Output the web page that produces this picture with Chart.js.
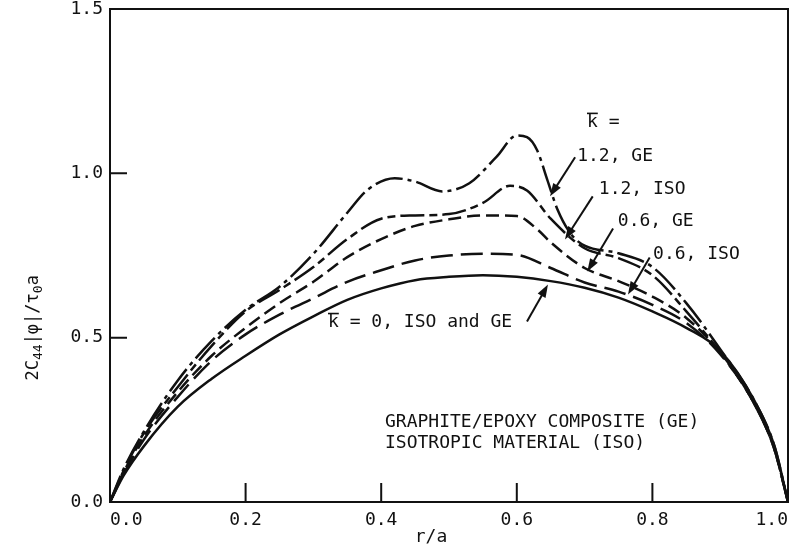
<!DOCTYPE html>
<html>
<head>
<meta charset="utf-8">
<script src="https://cdn.jsdelivr.net/npm/chart.js@4.4.1/dist/chart.umd.min.js"></script>
<style>
  html, body { margin: 0; padding: 0; background: #fff; }
  #wrap { width: 798px; height: 547px; }
</style>
</head>
<body>
<div id="wrap"><canvas id="chart1" width="798" height="547"></canvas></div>
<script>
// r/a sample positions and curve values
const rGe12 = [0, 0.02, 0.05, 0.1, 0.15, 0.2, 0.25, 0.3, 0.35, 0.38, 0.42, 0.45, 0.49, 0.53, 0.57, 0.6, 0.615, 0.63, 0.645, 0.66, 0.68, 0.7, 0.75, 0.8, 0.85, 0.9, 0.95, 0.98, 1.0]
const vGe12 = [0, 0.1, 0.215, 0.37, 0.49, 0.585, 0.655, 0.755, 0.88, 0.95, 0.985, 0.975, 0.945, 0.97, 1.05, 1.115, 1.11, 1.07, 0.98, 0.89, 0.815, 0.78, 0.757, 0.715, 0.605, 0.465, 0.31, 0.17, 0]

const rIso12 = [0, 0.02, 0.05, 0.1, 0.15, 0.2, 0.25, 0.3, 0.35, 0.4, 0.45, 0.5, 0.55, 0.59, 0.615, 0.65, 0.7, 0.75, 0.8, 0.85, 0.9, 0.95, 0.98, 1.0]
const vIso12 = [0, 0.095, 0.21, 0.35, 0.475, 0.58, 0.645, 0.715, 0.8, 0.862, 0.872, 0.876, 0.91, 0.962, 0.948, 0.862, 0.772, 0.742, 0.69, 0.58, 0.455, 0.3, 0.16, 0]

const rGe06 = [0, 0.02, 0.05, 0.1, 0.15, 0.2, 0.25, 0.3, 0.35, 0.4, 0.45, 0.5, 0.55, 0.6, 0.63, 0.65, 0.7, 0.75, 0.8, 0.85, 0.9, 0.95, 0.98, 1.0]
const vGe06 = [0, 0.09, 0.2, 0.335, 0.445, 0.53, 0.605, 0.67, 0.745, 0.8, 0.84, 0.86, 0.872, 0.87, 0.83, 0.79, 0.712, 0.672, 0.625, 0.56, 0.455, 0.3, 0.16, 0]

const rIso06 = [0, 0.02, 0.05, 0.1, 0.15, 0.2, 0.25, 0.3, 0.35, 0.4, 0.45, 0.5, 0.55, 0.6, 0.65, 0.7, 0.75, 0.8, 0.85, 0.9, 0.95, 0.98, 1.0]
const vIso06 = [0, 0.085, 0.19, 0.32, 0.43, 0.51, 0.57, 0.62, 0.67, 0.705, 0.735, 0.75, 0.755, 0.752, 0.712, 0.668, 0.64, 0.6, 0.545, 0.45, 0.3, 0.16, 0]

const rK0 = [0, 0.02, 0.05, 0.1, 0.15, 0.2, 0.25, 0.3, 0.35, 0.4, 0.45, 0.5, 0.55, 0.6, 0.65, 0.7, 0.75, 0.8, 0.85, 0.9, 0.95, 0.98, 1.0]
const vK0 = [0, 0.08, 0.17, 0.29, 0.375, 0.445, 0.51, 0.565, 0.615, 0.65, 0.675, 0.685, 0.69, 0.685, 0.672, 0.652, 0.622, 0.58, 0.53, 0.46, 0.31, 0.17, 0]

const xTickMarks = [0.2, 0.4, 0.6, 0.8]
const yTickMarks = [0.5, 1.0]

// labels and arrows, positions in data units (r/a, value)
const curveLabels = [
    { text: 'k =', r: 0.7035, v: 1.155, bar: true },
    { text: '1.2, GE', r: 0.689, v: 1.052 },
    { text: '1.2, ISO', r: 0.721, v: 0.951 },
    { text: '0.6, GE', r: 0.749, v: 0.854 },
    { text: '0.6, ISO', r: 0.801, v: 0.753 },
    { text: 'k = 0, ISO and GE', r: 0.3215, v: 0.546, bar: true },
    { text: 'GRAPHITE/EPOXY COMPOSITE (GE)', r: 0.4056, v: 0.241 },
    { text: 'ISOTROPIC MATERIAL (ISO)', r: 0.4056, v: 0.18 }
]
const arrows = [
    { from: [0.686, 1.049], to: [0.649, 0.93] },
    { from: [0.712, 0.93], to: [0.671, 0.799] },
    { from: [0.742, 0.832], to: [0.704, 0.701] },
    { from: [0.796, 0.744], to: [0.764, 0.631] },
    { from: [0.615, 0.549], to: [0.646, 0.662] }
]

const mono = '"DejaVu Sans Mono", "Liberation Mono", monospace'

function points(rs, vs) {
    return rs.map((r, i) => ({ x: r, y: vs[i] }))
}

function curve(label, rs, vs, dash) {
    return {
        label: label,
        data: points(rs, vs),
        borderColor: '#111',
        borderWidth: 2.5,
        borderDash: dash,
        pointRadius: 0,
        fill: false,
        cubicInterpolationMode: 'monotone'
    }
}

const decor = {
    id: 'decor',
    afterDraw(chart) {
        const { ctx, chartArea: a, scales: { x, y } } = chart
        ctx.save()
        ctx.strokeStyle = '#111'
        ctx.fillStyle = '#111'
        ctx.lineWidth = 2
        ctx.setLineDash([])
        ctx.strokeRect(a.left, a.top, a.right - a.left, a.bottom - a.top)

        ctx.beginPath()
        xTickMarks.forEach(v => {
            const px = x.getPixelForValue(v)
            ctx.moveTo(px, a.bottom)
            ctx.lineTo(px, a.bottom - 19)
        })
        yTickMarks.forEach(v => {
            const py = y.getPixelForValue(v)
            ctx.moveTo(a.left, py)
            ctx.lineTo(a.left + 17, py)
        })
        ctx.stroke()

        // text labels
        ctx.font = '18px ' + mono
        ctx.textBaseline = 'middle'
        ctx.textAlign = 'left'
        curveLabels.forEach(l => {
            const px = x.getPixelForValue(l.r)
            const py = y.getPixelForValue(l.v)
            ctx.fillText(l.text, px, py)
            if (l.bar) {
                const w = ctx.measureText('k').width
                ctx.lineWidth = 1.6
                ctx.beginPath()
                ctx.moveTo(px, py - 9)
                ctx.lineTo(px + w, py - 9)
                ctx.stroke()
            }
        })

        // arrows
        arrows.forEach(ar => {
            const x0 = x.getPixelForValue(ar.from[0]), y0 = y.getPixelForValue(ar.from[1])
            const x1 = x.getPixelForValue(ar.to[0]), y1 = y.getPixelForValue(ar.to[1])
            const ang = Math.atan2(y1 - y0, x1 - x0)
            ctx.lineWidth = 2
            ctx.beginPath()
            ctx.moveTo(x0, y0)
            ctx.lineTo(x1 - 8 * Math.cos(ang), y1 - 8 * Math.sin(ang))
            ctx.stroke()
            ctx.beginPath()
            ctx.moveTo(x1, y1)
            ctx.lineTo(x1 - 13 * Math.cos(ang) + 4.5 * Math.sin(ang), y1 - 13 * Math.sin(ang) - 4.5 * Math.cos(ang))
            ctx.lineTo(x1 - 13 * Math.cos(ang) - 4.5 * Math.sin(ang), y1 - 13 * Math.sin(ang) + 4.5 * Math.cos(ang))
            ctx.closePath()
            ctx.fill()
        })

        // x axis title
        ctx.textAlign = 'center'
        ctx.font = '18px ' + mono
        ctx.fillText('r/a', x.getPixelForValue(0.4735), a.bottom + 35)

        // y axis title with subscripts
        const parts = [
            ['2C', 17, 0], ['44', 13, 5], ['|\u03c6|/\u03c4', 17, 0], ['0', 13, 5], ['a', 17, 0]
        ]
        let total = 0
        parts.forEach(p => { ctx.font = p[1] + 'px ' + mono; total += ctx.measureText(p[0]).width })
        ctx.translate(34, y.getPixelForValue(0.53))
        ctx.rotate(-Math.PI / 2)
        ctx.textAlign = 'left'
        let cx = -total / 2
        parts.forEach(p => {
            ctx.font = p[1] + 'px ' + mono
            ctx.fillText(p[0], cx, p[2])
            cx += ctx.measureText(p[0]).width
        })
        ctx.restore()
    }
}

function renderChart() {
    const ctx = document.querySelector('#chart1').getContext('2d')
    const chart1 = new Chart(ctx, {
        type: 'line',
        data: {
            datasets: [
                curve('1.2, GE', rGe12, vGe12, [28, 5, 4, 5]),
                curve('1.2, ISO', rIso12, vIso12, [24, 5, 8, 5]),
                curve('0.6, GE', rGe06, vGe06, [13, 6]),
                curve('0.6, ISO', rIso06, vIso06, [22, 8]),
                curve('k = 0', rK0, vK0, [])
            ]
        },
        options: {
            responsive: false,
            devicePixelRatio: 1,
            animation: false,
            layout: {
                padding: { top: 0, right: 10, left: 0, bottom: 0 }
            },
            plugins: {
                legend: { display: false },
                tooltip: { enabled: false },
                title: { display: false }
            },
            scales: {
                x: {
                    type: 'linear',
                    min: 0,
                    max: 1,
                    grid: { display: false, drawTicks: false },
                    border: { display: false },
                    ticks: {
                        stepSize: 0.2,
                        align: 'inner',
                        padding: 8,
                        color: '#111',
                        font: { family: mono, size: 18 },
                        callback: v => v.toFixed(1)
                    },
                    afterFit: scale => { scale.height = 45 }
                },
                y: {
                    min: 0,
                    max: 1.5,
                    grid: { display: false, drawTicks: false },
                    border: { display: false },
                    ticks: {
                        stepSize: 0.5,
                        padding: 7,
                        color: '#111',
                        font: { family: mono, size: 18 },
                        callback: v => v.toFixed(1)
                    },
                    afterFit: scale => {
                        scale.width = 110
                        scale.paddingTop = 9
                        scale.paddingBottom = 0
                    }
                }
            }
        },
        plugins: [decor]
    })
}

renderChart()
</script>
</body>
</html>
